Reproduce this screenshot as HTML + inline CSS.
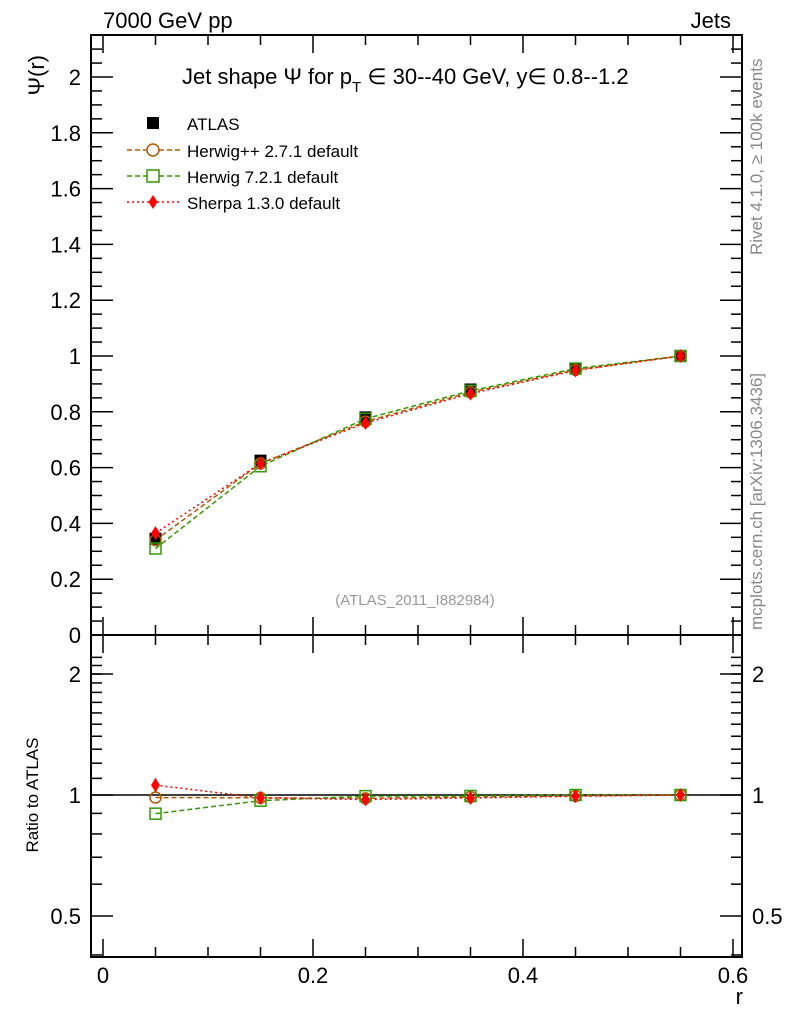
<!DOCTYPE html>
<html><head><meta charset="utf-8"><style>
body{margin:0;background:#fff}
svg{display:block;font-family:"Liberation Sans",sans-serif}
</style></head><body>
<svg id="s" width="786" height="1024" xmlns="http://www.w3.org/2000/svg"></svg>
<script>
const s=document.getElementById('s');let h='';
const L=91,R=742,T=35,M=635,B=957;
const X=r=>103+r*1050, Y=v=>635-v*279, YR=v=>795-Math.log2(v)*121;
h+=`<rect x="${L}" y="${T}" width="${R-L}" height="${M-T}" fill="none" stroke="#000" stroke-width="2"/>`;
h+=`<rect x="${L}" y="${M}" width="${R-L}" height="${B-M}" fill="none" stroke="#000" stroke-width="2"/>`;
// x ticks
for(let i=0;i<=12;i++){const r=i*0.05,x=X(r);if(x>R)continue;const big=i%4==0;const l=big?18:10;
[[T,1],[M,-1],[M,1],[B,-1]].forEach(([y,d])=>h+=`<line x1="${x}" x2="${x}" y1="${y}" y2="${y+d*l}" stroke="#000" stroke-width="1.5"/>`);
if(big)h+=`<text x="${x}" y="${B+26}" font-size="22" text-anchor="middle">${i==0?'0':(r.toFixed(1))}</text>`;}
// main y ticks
for(let i=0;i<=43;i++){const v=i*0.05,y=Y(v);if(y<T)continue;const big=i%4==0;const l=big?22:11;
h+=`<line x1="${L}" x2="${L+l}" y1="${y}" y2="${y}" stroke="#000" stroke-width="1.5"/><line x1="${R}" x2="${R-l}" y1="${y}" y2="${y}" stroke="#000" stroke-width="1.5"/>`;
if(big){let t=(Math.round(v*10)/10).toString();h+=`<text x="${L-10}" y="${y+8}" font-size="22" text-anchor="end">${t}</text>`;}}
// ratio y ticks
[0.4,0.5,0.6,0.7,0.8,0.9,1,2].forEach(v=>{const y=YR(v);if(y>B||y<M)return;const big=(v==0.5||v==1||v==2);const l=big?22:11;
h+=`<line x1="${L}" x2="${L+l}" y1="${y}" y2="${y}" stroke="#000" stroke-width="1.5"/><line x1="${R}" x2="${R-l}" y1="${y}" y2="${y}" stroke="#000" stroke-width="1.5"/>`;
if(big){h+=`<text x="${L-10}" y="${y+8}" font-size="22" text-anchor="end">${v}</text><text x="${R+10}" y="${y+8}" font-size="22">${v}</text>`;}});
for(let v=1.1;v<2.3;v+=0.1){const y=YR(v);if(y<M)continue;h+=`<line x1="${L}" x2="${L+11}" y1="${y}" y2="${y}" stroke="#000" stroke-width="1.5"/><line x1="${R}" x2="${R-11}" y1="${y}" y2="${y}" stroke="#000" stroke-width="1.5"/>`;}
h+=`<line x1="${L}" x2="${R}" y1="795" y2="795" stroke="#000" stroke-width="1.5"/>`;
const rs=[0.05,0.15,0.25,0.35,0.45,0.55];
const A=[0.345,0.625,0.78,0.88,0.955,1.0];
const H=[0.34,0.615,0.765,0.87,0.95,1.0];
const W=[0.31,0.605,0.775,0.875,0.955,1.0];
const S=[0.365,0.615,0.76,0.865,0.948,1.0];
function line(d,f,c,dash){return `<polyline points="${rs.map((r,i)=>X(r)+','+f(d[i])).join(' ')}" fill="none" stroke="${c}" stroke-width="1.5" stroke-dasharray="${dash}"/>`;}
function mk(d,f,type){let o='';rs.forEach((r,i)=>{const x=X(r),y=f(d[i]);
if(type=='A')o+=`<rect x="${x-6}" y="${y-6}" width="12" height="12" fill="#000"/>`;
if(type=='H')o+=`<circle cx="${x}" cy="${y}" r="5.5" fill="none" stroke="#b35900" stroke-width="1.5"/>`;
if(type=='W')o+=`<rect x="${x-5.5}" y="${y-5.5}" width="11" height="11" fill="none" stroke="#339900" stroke-width="1.5"/>`;
if(type=='S')o+=`<polygon points="${x},${y-7} ${x+4.5},${y} ${x},${y+7} ${x-4.5},${y}" fill="#f00"/>`;});return o;}
const rat=(d)=>d.map((v,i)=>v/A[i]);
h+=line(H,Y,'#b35900','5,3')+line(W,Y,'#339900','5,3')+line(S,Y,'#f00','2,3');
h+=mk(A,Y,'A')+mk(H,Y,'H')+mk(W,Y,'W')+mk(S,Y,'S');
h+=line(rat(H),YR,'#b35900','5,3')+line(rat(W),YR,'#339900','5,3')+line(rat(S),YR,'#f00','2,3');
h+=mk(rat(H),YR,'H')+mk(rat(W),YR,'W')+mk(rat(S),YR,'S');
h+=`<line x1="${X(0.05)}" x2="${X(0.05)}" y1="778" y2="792" stroke="#f00" stroke-width="1.5"/>`;
// legend
const lg=[['A','ATLAS',123],['H','Herwig++ 2.7.1 default',150],['W','Herwig 7.2.1 default',176],['S','Sherpa 1.3.0 default',202]];
lg.forEach(([t,n,y])=>{const c={A:'#000',H:'#b35900',W:'#339900',S:'#f00'}[t];
if(t!='A')h+=`<line x1="127" x2="180" y1="${y}" y2="${y}" stroke="${c}" stroke-width="1.5" stroke-dasharray="${t=='S'?'2,3':'5,3'}"/>`;
const x=153;
if(t=='A')h+=`<rect x="${x-6}" y="${y-6}" width="12" height="12" fill="#000"/>`;
if(t=='H')h+=`<circle cx="${x}" cy="${y}" r="6" fill="#fff" stroke="${c}" stroke-width="1.5"/>`;
if(t=='W')h+=`<rect x="${x-6}" y="${y-6}" width="12" height="12" fill="#fff" stroke="${c}" stroke-width="1.5"/>`;
if(t=='S')h+=`<polygon points="${x},${y-7} ${x+4.5},${y} ${x},${y+7} ${x-4.5},${y}" fill="#f00"/>`;
h+=`<text x="187" y="${y+7}" font-size="17">${n}</text>`;});
h+=`<text x="103" y="28" font-size="22">7000 GeV pp</text><text x="731" y="28" font-size="22" text-anchor="end">Jets</text>`;
h+=`<text x="182" y="84" font-size="22">Jet shape Ψ for p<tspan font-size="15" dy="8">T</tspan><tspan dy="-8"> ∈ 30--40 GeV, y∈ 0.8--1.2</tspan></text>`;
h+=`<text x="415" y="605" font-size="15" fill="#999" text-anchor="middle">(ATLAS_2011_I882984)</text>`;
h+=`<text x="743" y="1004" font-size="22" text-anchor="end">r</text>`;
h+=`<text font-size="22" transform="translate(44,55) rotate(-90)" text-anchor="end">Ψ(r)</text>`;
h+=`<text font-size="17" transform="translate(38,795) rotate(-90)" text-anchor="middle">Ratio to ATLAS</text>`;
h+=`<text font-size="17" fill="#888" transform="translate(762,255) rotate(-90)">Rivet 4.1.0, ≥ 100k events</text>`;
h+=`<text font-size="17" fill="#888" transform="translate(762,630) rotate(-90)">mcplots.cern.ch [arXiv:1306.3436]</text>`;
s.innerHTML=h;
</script>
</body></html>
